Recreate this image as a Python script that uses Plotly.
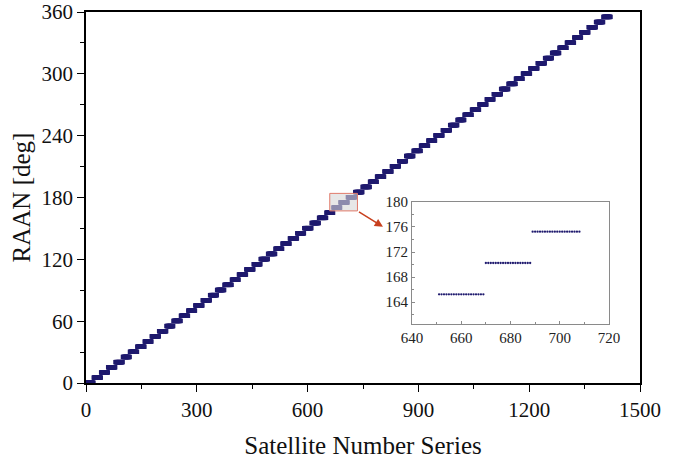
import plotly.graph_objects as go

# Number of satellites in each orbital plane (72 planes)
plane_sizes = [20, 20, 19, 20, 20, 19, 20, 20, 19, 20, 20, 19, 20, 20, 19,
               20, 20, 19, 20, 20, 19, 20, 20, 19, 20, 20, 19, 20, 20, 19,
               20, 20, 20,
               19, 19, 20,
               20, 20, 20, 19, 20, 20, 20, 19, 20, 20, 20, 19, 20, 20, 20, 19,
               20, 20, 20, 19, 20, 20, 20, 19, 20, 20, 20, 19, 20, 20, 20, 19,
               20, 20, 20, 20]
# RAAN of each plane [deg]
plane_raan = [0.25, 5.25, 10.25, 15.25, 20.25, 25.25, 30.25, 35.25, 40.25, 45.25,
              50.25, 55.25, 60.25, 65.25, 70.25, 75.25, 80.25, 85.25, 90.25, 95.25,
              100.25, 105.25, 110.25, 115.25, 120.25, 125.25, 130.25, 135.25, 140.25, 145.25,
              150.25, 155.25, 160.25, 165.25, 170.25, 175.25, 180.25, 185.25, 190.25, 195.25,
              200.25, 205.25, 210.25, 215.25, 220.25, 225.25, 230.25, 235.25, 240.25, 245.25,
              250.25, 255.25, 260.25, 265.25, 270.25, 275.25, 280.25, 285.25, 290.25, 295.25,
              300.25, 305.25, 310.25, 315.25, 320.25, 325.25, 330.25, 335.25, 340.25, 345.25,
              350.25, 355.25]

main_xticks = [0, 300, 600, 900, 1200, 1500]
main_yticks = [0, 60, 120, 180, 240, 300, 360]
inset_xticks = [640, 660, 680, 700, 720]
inset_yticks = [164, 168, 172, 176, 180]

sat_no, raan = [], []
n = 1
for size, r in zip(plane_sizes, plane_raan):
    for _ in range(size):
        sat_no.append(n)
        raan.append(r)
        n += 1

NAVY = "#1f1a6e"
FONT = "Liberation Serif"

fig = go.Figure()
fig.add_trace(go.Scatter(x=sat_no, y=raan, mode="markers",
                         marker=dict(symbol="square", size=4.4, color=NAVY, line=dict(width=0)),
                         xaxis="x", yaxis="y", showlegend=False, hoverinfo="skip"))
fig.add_trace(go.Scatter(x=sat_no, y=raan, mode="markers",
                         marker=dict(symbol="circle", size=2.3, color=NAVY, line=dict(width=0)),
                         xaxis="x2", yaxis="y2", showlegend=False, hoverinfo="skip"))

axis_common = dict(showline=True, linecolor="black", linewidth=1.5, mirror=True,
                   ticks="outside", ticklen=7, tickwidth=1.2, tickcolor="black",
                   showgrid=False, zeroline=False, automargin=False,
                   tickfont=dict(family=FONT, size=21, color="#111"))

fig.update_layout(
    width=678, height=459,
    margin=dict(l=86, r=38, t=12, b=76),
    paper_bgcolor="white", plot_bgcolor="white",
    xaxis=dict(range=[0, 1500], tickvals=main_xticks,
               minor=dict(dtick=150, ticks="outside", ticklen=4, tickcolor="black", tickwidth=1.2),
               title=dict(text="Satellite Number Series", font=dict(family=FONT, size=25, color="#111"),
                          standoff=16),
               **axis_common),
    yaxis=dict(range=[0, 360], tickvals=main_yticks,
               minor=dict(dtick=30, ticks="outside", ticklen=4, tickcolor="black", tickwidth=1.2),
               title=dict(text="RAAN [deg]", font=dict(family=FONT, size=25, color="#111"),
                          standoff=4),
               **axis_common),
    xaxis2=dict(domain=[0.5884, 0.944], anchor="y2", range=[640, 720], tickvals=inset_xticks,
                showline=True, linecolor="#8a8a8a", linewidth=1, mirror=True,
                ticks="inside", ticklen=3, tickcolor="#8a8a8a",
                minor=dict(dtick=10, ticks="inside", ticklen=2, tickcolor="#8a8a8a"),
                showgrid=False, zeroline=False, automargin=False,
                tickfont=dict(family=FONT, size=15, color="#222")),
    yaxis2=dict(domain=[0.159, 0.488], anchor="x2", range=[160.5, 180], tickvals=inset_yticks,
                showline=True, linecolor="#8a8a8a", linewidth=1, mirror=True,
                ticks="inside", ticklen=3, tickcolor="#8a8a8a",
                minor=dict(dtick=2, ticks="inside", ticklen=2, tickcolor="#8a8a8a"),
                showgrid=False, zeroline=False, automargin=False,
                tickfont=dict(family=FONT, size=15, color="#222")),
)

fig.add_shape(type="rect", xref="x", yref="y", x0=660, x1=735, y0=167, y1=184,
              fillcolor="rgba(215,215,215,0.6)", line=dict(color="#e07a6a", width=1), layer="above")
fig.add_annotation(x=804, y=151.5, ax=735, ay=167, xref="x", yref="y", axref="x", ayref="y",
                   showarrow=True, arrowhead=2, arrowsize=1.1, arrowwidth=1.5, arrowcolor="#c8401e",
                   text="")

fig.write_html("out.html")
